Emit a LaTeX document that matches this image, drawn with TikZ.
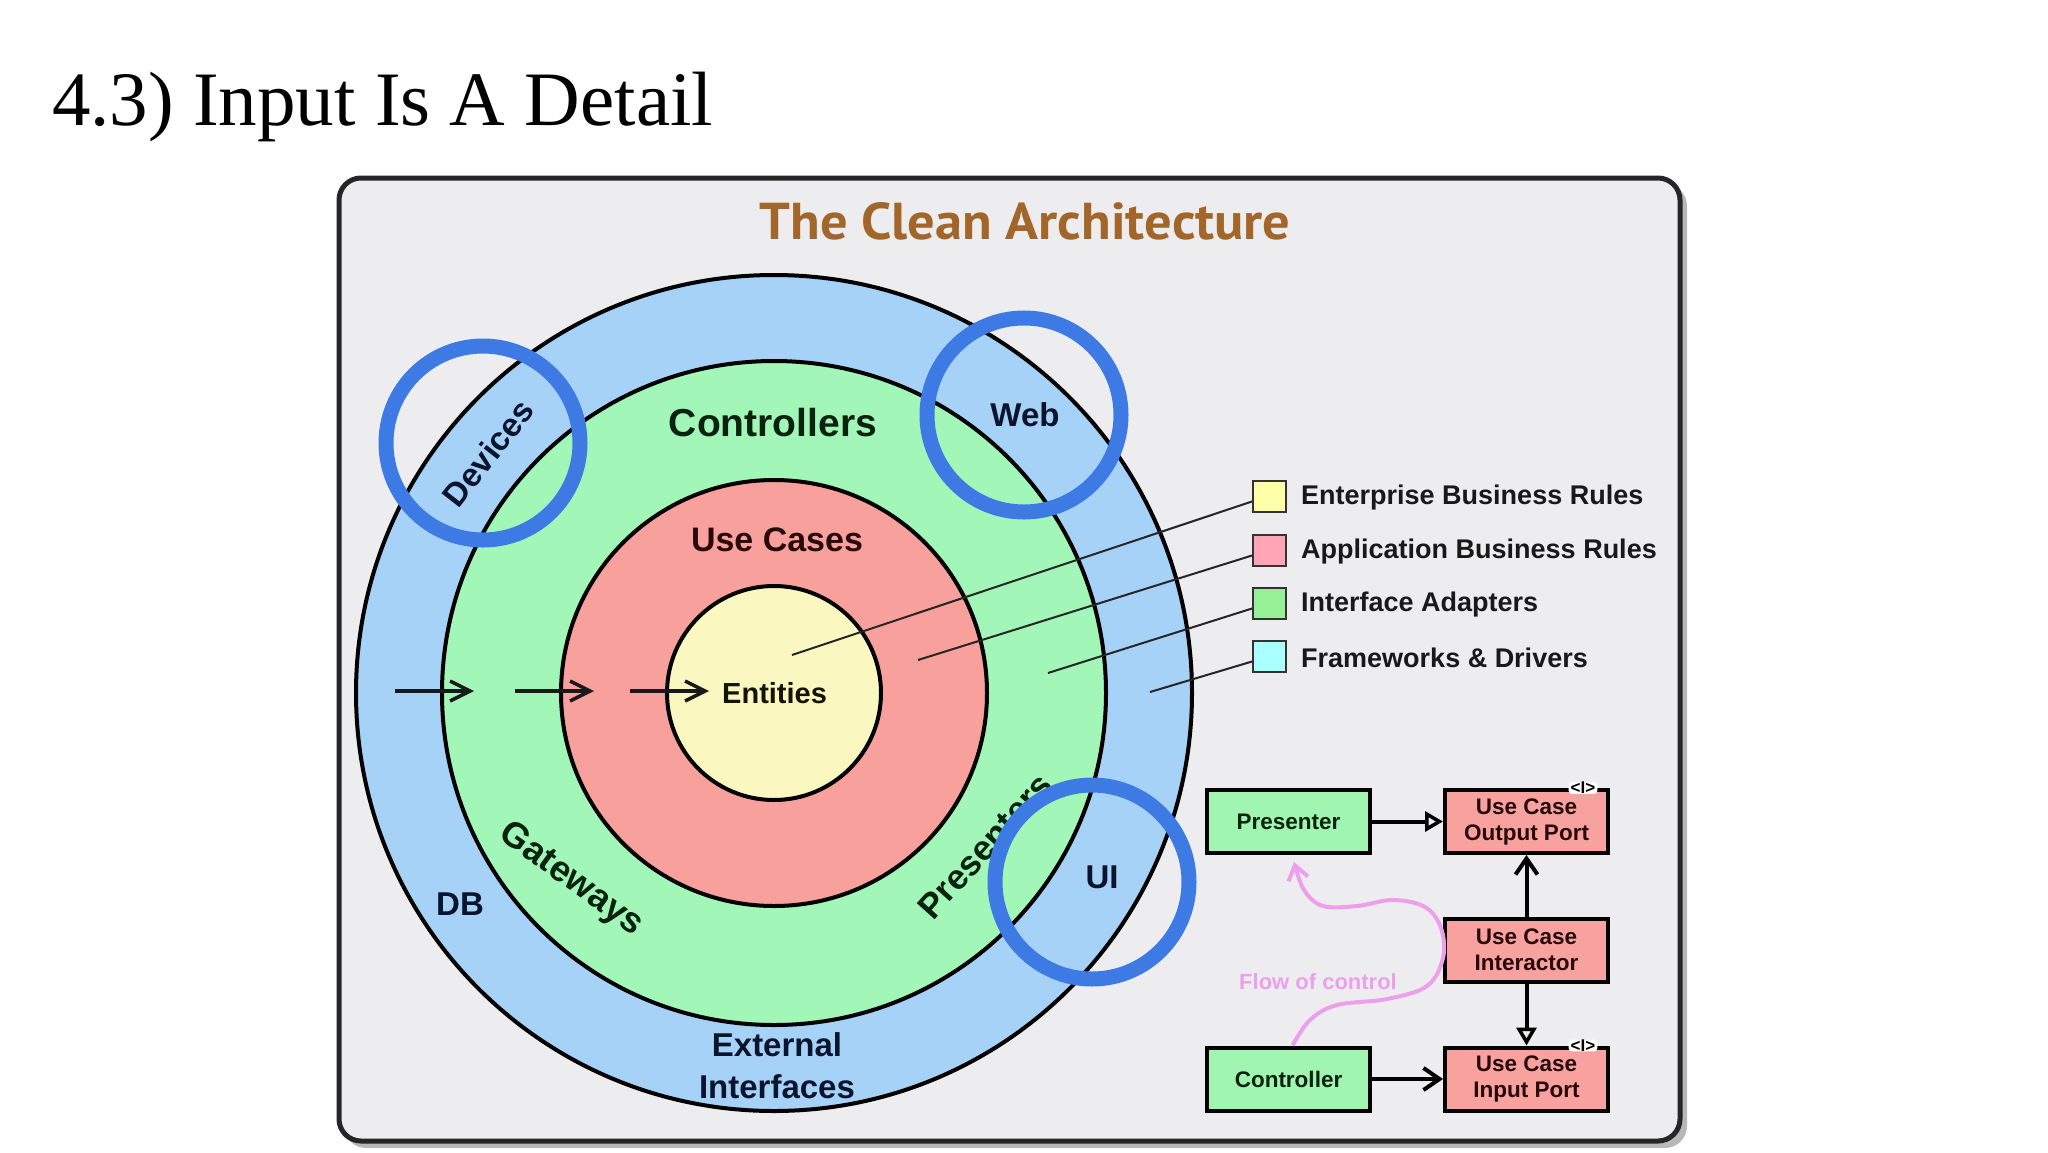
\documentclass[tikz,border=0pt]{standalone}
\usepackage{fontspec}
\setmainfont{Liberation Sans}
\newfontfamily\serifttl{Liberation Serif}
\newfontfamily\ptsans{PT Sans}
\usetikzlibrary{arrows.meta}
\definecolor{framebg}{RGB}{237,237,239}
\definecolor{ringblue}{RGB}{166,210,248}
\definecolor{ringgreen}{RGB}{162,246,184}
\definecolor{ringred}{RGB}{248,161,156}
\definecolor{ringyellow}{RGB}{250,248,192}
\definecolor{legyellow}{RGB}{255,255,170}
\definecolor{legpink}{RGB}{255,165,182}
\definecolor{leggreen}{RGB}{150,240,150}
\definecolor{legcyan}{RGB}{170,255,255}
\definecolor{boxgreen}{RGB}{160,245,176}
\definecolor{boxred}{RGB}{248,162,160}
\definecolor{hlblue}{RGB}{62,122,228}
\definecolor{ttlbrown}{RGB}{162,102,42}
\definecolor{flowpink}{RGB}{236,160,236}
\definecolor{txgreen}{RGB}{10,35,15}
\definecolor{txred}{RGB}{40,10,10}
\definecolor{txblue}{RGB}{10,20,45}
\definecolor{txyellow}{RGB}{20,20,5}
\begin{document}
\begin{tikzpicture}[x=1pt,y=-1pt,
  ring/.style={draw=black,line width=4pt},
  lbl/.style={font=\bfseries\fontsize{33}{38}\selectfont,inner sep=0pt},
  hl/.style={draw=hlblue,line width=15pt},
  ubox/.style={draw=black,line width=4pt,minimum width=163pt,minimum height=63pt,
    align=center,font=\bfseries\fontsize{22.5}{26}\selectfont,inner sep=0pt},
  legsq/.style={draw=black!80,line width=2pt,minimum width=33pt,minimum height=31pt,inner sep=0pt},
  legtxt/.style={anchor=west,font=\bfseries\fontsize{27}{30}\selectfont,text=black!90,inner sep=0pt},
  leader/.style={draw=black!85,line width=2pt},
  inarrow/.style={draw=black!90,line width=3.5pt,-{Straight Barb[length=20pt,width=20pt,line width=3.5pt]}},
  opentri/.style={draw=black,line width=4pt,-{Triangle[open,length=18pt,width=20pt,line width=3.5pt]}},
  openv/.style={draw=black,line width=4pt,-{Straight Barb[length=16pt,width=22pt,line width=4pt]}},
  iface/.style={font=\bfseries\fontsize{17}{17}\selectfont,fill=white,inner xsep=2pt,inner ysep=0pt,rounded corners=3pt}
]
\useasboundingbox (0,0) rectangle (2048,1152);
\fill[white] (0,0) rectangle (2048,1152);
% page title
\node[anchor=base west,inner sep=0pt,font=\serifttl\fontsize{77}{80}\selectfont] (pagetitle) at (52,125) {4.3) Input Is A Detail};
% frame
\fill[black!28,rounded corners=22pt] (344,184) rectangle (1687,1148);
\draw[line width=5pt,draw=black!85,fill=framebg,rounded corners=22pt] (339,178) rectangle (1680,1141);
\node[inner sep=0pt,text=ttlbrown] (ttl) at (1025,221) {\resizebox{531pt}{37pt}{\ptsans\bfseries The Clean Architecture}};
% rings
\filldraw[ring,fill=ringblue] (774,693) circle[radius=418];
\filldraw[ring,fill=ringgreen] (774,693) circle[radius=332];
\filldraw[ring,fill=ringred] (774,693) circle[radius=213];
\filldraw[ring,fill=ringyellow] (774,693) circle[radius=107];
% legend
\node[legsq,fill=legyellow] (lg1) at (1269.5,496.5) {};
\node[legsq,fill=legpink] (lg2) at (1269.5,550.5) {};
\node[legsq,fill=leggreen] (lg3) at (1269.5,603.5) {};
\node[legsq,fill=legcyan] (lg4) at (1269.5,656.5) {};
\node[legtxt] (lt1) at (1301,498) {Enterprise Business Rules};
\node[legtxt] (lt2) at (1301,552) {Application Business Rules};
\node[legtxt] (lt3) at (1301,605) {Interface Adapters};
\node[legtxt] (lt4) at (1301,658) {Frameworks \& Drivers};
\coordinate (le1) at (792,655);
\coordinate (le2) at (918,660);
\coordinate (le3) at (1048,673);
\coordinate (le4) at (1150,692);
\draw[leader] ([yshift=-5pt]lg1.west) -- (le1);
\draw[leader] ([yshift=-5pt]lg2.west) -- (le2);
\draw[leader] ([yshift=-5pt]lg3.west) -- (le3);
\draw[leader] ([yshift=-5pt]lg4.west) -- (le4);
% ring labels
\node[lbl,text=txgreen,font=\bfseries\fontsize{39}{44}\selectfont] (ctrl) at (773,423) {Controllers};
\node[lbl,text=txred,font=\bfseries\fontsize{34}{40}\selectfont] (uc) at (777,540) {Use Cases};
\node[lbl,text=txyellow,font=\bfseries\fontsize{29}{34}\selectfont,anchor=west] (ent) at (722,693) {Entities};
\node[lbl,text=txblue] (web) at (1025,415) {Web};
\node[lbl,text=txblue,rotate=52] (dev) at (488,453) {Devices};
\node[lbl,text=txgreen,rotate=48,font=\bfseries\fontsize{35}{40}\selectfont] (pres) at (985,846) {Presenters};
\node[lbl,text=txgreen,rotate=-36,font=\bfseries\fontsize{36}{40}\selectfont] (gw) at (571,880) {Gateways};
\node[lbl,text=txblue] (ui) at (1102,877) {UI};
\node[lbl,text=txblue] (db) at (460,904) {DB};
\node[lbl,text=txblue,align=center,font=\bfseries\fontsize{33}{42}\selectfont] (ext) at (777,1066) {External\\Interfaces};
% dependency arrows
\coordinate (a1s) at (395,691); \coordinate (a1e) at (474,691);
\coordinate (a2s) at (515,691); \coordinate (a2e) at (594,691);
\coordinate (a3s) at (630,691); \coordinate (a3e) at (709,691);
\draw[inarrow] (a1s) -- (a1e);
\draw[inarrow] (a2s) -- (a2e);
\draw[inarrow] (a3s) -- (a3e);
% use case diagram
\node[ubox,fill=boxgreen,text=txgreen] (presenter) at (1288.5,821.5) {Presenter};
\node[ubox,fill=boxred,text=txred] (outport) at (1526.5,821.5) {Use Case\\Output Port};
\node[ubox,fill=boxred,text=txred] (interactor) at (1526.5,950) {Use Case\\Interactor};
\node[ubox,fill=boxgreen,text=txgreen] (controller) at (1288.5,1079) {Controller};
\node[ubox,fill=boxred,text=txred] (inport) at (1526.5,1079) {Use Case\\Input Port};
\node[iface] (if1) at ([xshift=-27pt]outport.north east) {<I>};
\node[iface] (if2) at ([xshift=-27pt]inport.north east) {<I>};
\draw[opentri] (presenter) -- (outport);
\draw[openv] (interactor) -- (outport);
\draw[opentri] (interactor) -- (inport);
\draw[openv] (controller) -- (inport);
% flow of control
\draw[draw=flowpink,line width=4pt,-{Straight Barb[length=14pt,width=20pt,line width=4pt]}]
  plot[smooth,tension=0.6] coordinates {([xshift=4pt]controller.north) (1310,1020) (1337,1005) (1387,999) (1427,986) (1443,958) (1441,928) (1425,907) (1393,900) (1357,906) (1323,906) (1304,890) (1294,862)};
\node[text=flowpink,font=\bfseries\fontsize{22}{26}\selectfont,inner sep=0pt] (flow) at (1318,982) {Flow of control};
% highlight circles
\draw[hl] (483,443) circle[radius=97];
\draw[hl] (1024,415) circle[radius=97];
\draw[hl] (1092,882) circle[radius=97];
\end{tikzpicture}
\end{document}
